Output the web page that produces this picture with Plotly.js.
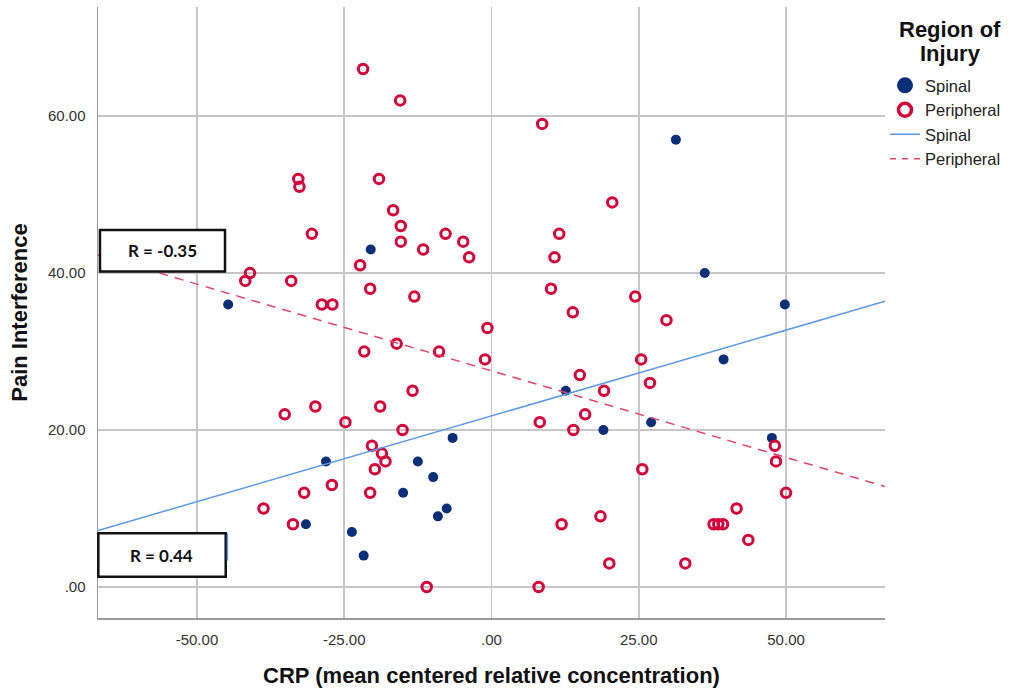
<!DOCTYPE html>
<html>
<head>
<meta charset="utf-8">
<script src="https://cdn.plot.ly/plotly-3.0.1.min.js"></script>
<style>html,body{margin:0;padding:0;background:#fff;}#chart{width:1013px;height:693px;}</style>
</head>
<body>
<div id="chart"></div>
<script>
// Spinal (filled dots)
var spinalX = [-44.7, -20.5, -28.1, -31.5, -23.7, -21.7, -15.0, -12.5, -9.9, -7.6, -9.1, -6.6, 12.6, 19.0, 27.1, 31.3, 36.2, 49.8, 39.4, 47.6];
var spinalY = [36, 43, 16, 8, 7, 4, 12, 16, 14, 10, 9, 19, 25, 20, 21, 57, 40, 36, 29, 19];

// Peripheral (open rings)
var periphX = [-21.8, -15.5, -32.8, -32.6, -19.1, -16.7, -15.4, -15.4, -11.6, -7.8, -30.5, -22.3, -41.0, -41.8, -34.0, -20.6, -13.1, -28.8, -27.0,
               -21.6, -16.1, -8.9, -1.1, -13.4, -35.1, -29.9, -18.9, -24.8, -15.1, -20.3, -18.6, -18.0, -19.8, -27.1, -31.8, -20.6, -38.7, -33.7, -11.0,
               8.6, 20.5, 11.5, 10.7, 10.1, 24.4, 13.8, 29.7, -0.7, 25.4, 15.0, 26.9, 19.1, 15.9, 8.2, 13.9, 25.6, 11.9, 18.5, 20.0, 32.9, 8.0,
               41.6, 37.7, 38.5, 39.3, 48.1, 48.3, 50.0, 43.6, -4.8, -3.8];
var periphY = [66, 62, 52, 51, 52, 48, 46, 44, 43, 45, 45, 41, 40, 39, 39, 38, 37, 36, 36,
               30, 31, 30, 29, 25, 22, 23, 23, 21, 20, 18, 17, 16, 15, 13, 12, 12, 10, 8, 0,
               59, 49, 45, 42, 38, 37, 35, 34, 33, 29, 27, 26, 25, 22, 21, 20, 15, 8, 9, 3, 3, 0,
               10, 8, 8, 8, 18, 16, 12, 6, 44, 42];

// Fit lines (read endpoints at the axis edges)
var fitX = [-66.8, 66.8];
var spinalFitY = [7.2, 36.4];
var periphFitY = [42.3, 12.8];

// Tick labels
var xTickVals = [-50, -25, 0, 25, 50];
var xTickText = ['-50.00', '-25.00', '.00', '25.00', '50.00'];
var yTickVals = [0, 20, 40, 60];
var yTickText = ['.00', '20.00', '40.00', '60.00'];

var seriesNames = ['Spinal', 'Peripheral'];
var legendTitleLines = ['Region of', 'Injury'];
var rLabels = ['R = -0.35', 'R = 0.44'];

var navy = '#0a2f78';
var crimson = '#d4003a';
var lightBlue = '#5c9ae6';
var pinkRed = '#e2456b';

var traces = [
  {x: spinalX, y: spinalY, type: 'scatter', mode: 'markers', showlegend: false, hoverinfo: 'x+y',
   marker: {color: navy, size: 10, line: {width: 0}}},
  {x: periphX, y: periphY, type: 'scatter', mode: 'markers', showlegend: false, hoverinfo: 'x+y',
   marker: {symbol: 'circle-open', color: crimson, size: 9.5, line: {width: 3, color: crimson}}},
  {x: fitX, y: spinalFitY, type: 'scatter', mode: 'lines', showlegend: false, hoverinfo: 'skip',
   line: {color: lightBlue, width: 1.5}},
  {x: fitX, y: periphFitY, type: 'scatter', mode: 'lines', showlegend: false, hoverinfo: 'skip',
   line: {color: pinkRed, width: 1.5, dash: '9px,7px'}},
  // legend entries
  {x: [null], y: [null], type: 'scatter', mode: 'markers', name: seriesNames[0],
   marker: {color: navy, size: 16}},
  {x: [null], y: [null], type: 'scatter', mode: 'markers', name: seriesNames[1],
   marker: {symbol: 'circle-open', color: crimson, size: 13, line: {width: 3.5, color: crimson}}},
  {x: [null], y: [null], type: 'scatter', mode: 'lines', name: seriesNames[0],
   line: {color: lightBlue, width: 1.5}},
  {x: [null], y: [null], type: 'scatter', mode: 'lines', name: seriesNames[1],
   line: {color: pinkRed, width: 1.5, dash: '6px,6px'}}
];

var layout = {
  width: 1013, height: 693,
  margin: {l: 98, r: 128, t: 7, b: 75, pad: 0, autoexpand: false},
  paper_bgcolor: '#ffffff', plot_bgcolor: '#ffffff',
  font: {family: '"Liberation Sans", Arial, sans-serif', color: '#222'},
  xaxis: {
    range: [-66.8, 66.8], tickvals: xTickVals, ticktext: xTickText,
    showgrid: true, gridcolor: '#c6c6c6', gridwidth: 1.5, zeroline: false,
    showline: true, linecolor: '#9a9a9a', linewidth: 1.5, ticks: '', ticklabelstandoff: 7,
    tickfont: {size: 15, color: '#333'},
    title: {text: 'CRP (mean centered relative concentration)', standoff: 21,
            font: {size: 22, color: '#111', weight: 'bold'}}
  },
  yaxis: {
    range: [-3.95, 73.9], tickvals: yTickVals, ticktext: yTickText,
    showgrid: true, gridcolor: '#c6c6c6', gridwidth: 1.5, zeroline: false,
    showline: true, linecolor: '#9a9a9a', linewidth: 1.5, ticks: '', ticklabelstandoff: 8,
    tickfont: {size: 15, color: '#333'},
    title: {text: 'Pain Interference', standoff: 14,
            font: {size: 22, color: '#111', weight: 'bold'}}
  },
  legend: {
    x: 1.0, xanchor: 'left', y: 0.9, yanchor: 'top',
    bgcolor: 'rgba(0,0,0,0)', borderwidth: 0, tracegroupgap: 0,
    font: {size: 16.5, color: '#222'}
  },
  shapes: [
    {type: 'rect', xref: 'paper', yref: 'paper', x0: 0.0025, x1: 0.1614, y0: 0.567, y1: 0.635,
     fillcolor: '#ffffff', line: {color: '#111', width: 2.5}, layer: 'above'},
    {type: 'rect', xref: 'paper', yref: 'paper', x0: 0.0004, x1: 0.1623, y0: 0.0676, y1: 0.1386,
     fillcolor: '#ffffff', line: {color: '#111', width: 2.5}, layer: 'above'},
    {type: 'line', xref: 'paper', yref: 'paper', x0: 0.1645, x1: 0.1645, y0: 0.094, y1: 0.1386,
     line: {color: lightBlue, width: 1.5}, layer: 'above'}
  ],
  annotations: [
    {xref: 'paper', yref: 'paper', x: 0.0819, y: 0.601, text: rLabels[0], showarrow: false,
     xanchor: 'center', yanchor: 'middle', font: {family: 'Lato, "Open Sans", sans-serif', size: 17, color: '#111', weight: 'bold'}},
    {xref: 'paper', yref: 'paper', x: 0.0813, y: 0.1031, text: rLabels[1], showarrow: false,
     xanchor: 'center', yanchor: 'middle', font: {family: 'Lato, "Open Sans", sans-serif', size: 17, color: '#111', weight: 'bold'}},
    {xref: 'paper', yref: 'paper', x: 1.0826, y: 0.9624, text: legendTitleLines[0], showarrow: false,
     xanchor: 'center', yanchor: 'middle', font: {size: 22, color: '#111', weight: 'bold'}},
    {xref: 'paper', yref: 'paper', x: 1.0826, y: 0.9247, text: legendTitleLines[1], showarrow: false,
     xanchor: 'center', yanchor: 'middle', font: {size: 22, color: '#111', weight: 'bold'}}
  ]
};

Plotly.newPlot('chart', traces, layout, {displayModeBar: false, staticPlot: true});
</script>
</body>
</html>
